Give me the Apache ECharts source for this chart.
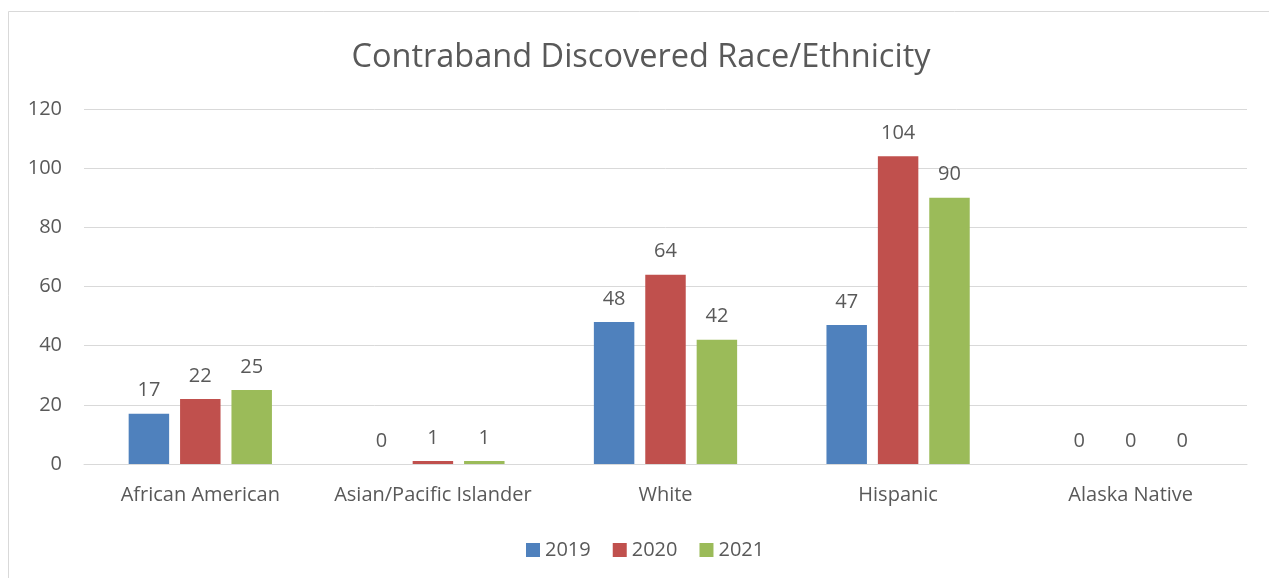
<!DOCTYPE html>
<html>
<head>
<meta charset="utf-8">
<script src="https://cdn.jsdelivr.net/npm/echarts@6/dist/echarts.min.js"></script>
<style>html,body{margin:0;padding:0;background:#fff;}#c{width:1269px;height:578px;}</style>
</head>
<body>
<div id="c"></div>
<script>
const categories = ['African American', 'Asian/Pacific Islander', 'White', 'Hispanic', 'Alaska Native'];
const seriesNames = ['2019', '2020', '2021'];
const values2019 = [17, 0, 48, 47, 0];
const values2020 = [22, 1, 64, 104, 0];
const values2021 = [25, 1, 42, 90, 0];
const yTicks = [0, 20, 40, 60, 80, 100, 120];

const colors = ['#4F81BD', '#C0504D', '#9BBB59'];
const font = 'Open Sans';
const txt = '#595959';
const allValues = [values2019, values2020, values2021];

const chart = echarts.init(document.getElementById('c'));
chart.setOption({
  animation: false,
  backgroundColor: '#fff',
  color: colors,
  title: {
    text: 'Contraband Discovered Race/Ethnicity',
    left: 641, top: 40, textAlign: 'center', padding: 0,
    textStyle: { fontFamily: font, fontSize: 32.5, fontWeight: 'normal', color: txt, lineHeight: 36 }
  },
  graphic: [{
    type: 'rect', shape: { x: 8.5, y: 11.5, width: 1300, height: 600 },
    style: { fill: 'none', stroke: '#D9D9D9', lineWidth: 1 }, silent: true, z: -1
  }],
  legend: {
    data: seriesNames, bottom: 13, left: 521,
    itemWidth: 14, itemHeight: 14, itemGap: 22, icon: 'rect',
    textStyle: { fontFamily: font, fontSize: 20, color: txt }
  },
  grid: { left: 84, right: 22, top: 109, bottom: 114, containLabel: false },
  xAxis: {
    type: 'category', data: categories,
    axisLine: { lineStyle: { color: '#D9D9D9', width: 1 } },
    axisTick: { show: false },
    axisLabel: { interval: 0, hideOverlap: false, fontFamily: font, fontSize: 20, color: txt, margin: 21 }
  },
  yAxis: {
    type: 'value', min: yTicks[0], max: yTicks[yTicks.length - 1], interval: 20,
    axisLine: { show: false }, axisTick: { show: false },
    splitLine: { lineStyle: { color: '#D9D9D9', width: 1 } },
    axisLabel: { fontFamily: font, fontSize: 20, color: txt, margin: 22 }
  },
  series: seriesNames.map((n, i) => ({
    name: n, type: 'bar', data: allValues[i],
    barWidth: '17.4%', barGap: '27%',
    itemStyle: { color: colors[i] },
    label: { show: true, position: 'top', distance: 13, fontFamily: font, fontSize: 20, color: txt }
  }))
});
</script>
</body>
</html>
